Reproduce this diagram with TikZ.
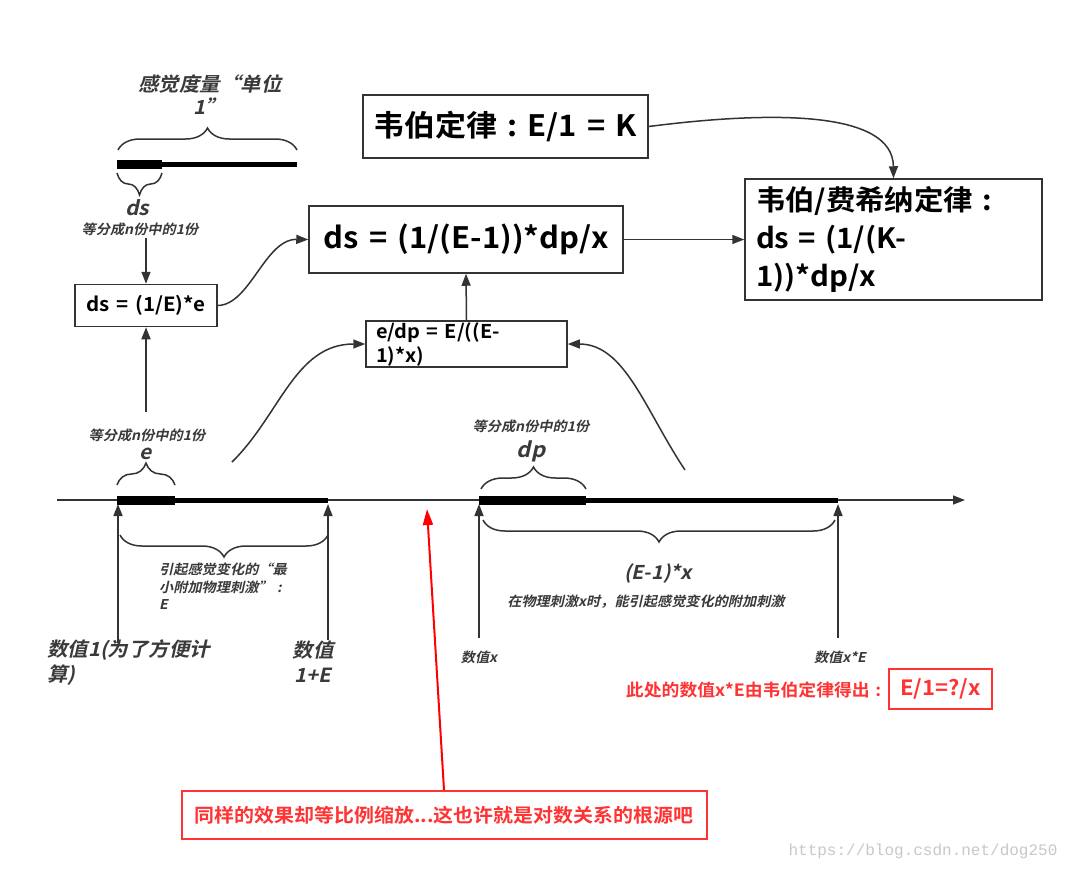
\documentclass[tikz,border=0pt]{standalone}
\usepackage{fontspec}
\setmainfont{Noto Sans CJK SC}[
  BoldFont=* Bold,
  ItalicFont=*, ItalicFeatures={FakeSlant=0.22},
  BoldItalicFont=* Bold, BoldItalicFeatures={FakeSlant=0.22},
  FakeStretch=1.05, WordSpace=1.5]
\newfontfamily\wmfont{Liberation Mono}
\usetikzlibrary{arrows.meta,decorations.pathreplacing}
\definecolor{ln}{HTML}{333333}
\definecolor{lbl}{HTML}{3A3A3A}
\definecolor{rd}{HTML}{FF3333}
\definecolor{rda}{HTML}{FF0000}
\definecolor{wm}{HTML}{C8C8C8}
\newcommand\fsz[2]{\fontsize{#1}{#2}\selectfont}
\newcommand\ccolon{\makebox[1em]{:}}
\begin{document}
\begin{tikzpicture}[x=1pt,y=-1pt,
  box/.style={draw=ln, line width=1.5pt, fill=white, inner sep=0pt, text=black},
  conn/.style={draw=ln, line width=1.5pt, -{Triangle[length=12pt,width=9pt]}},
  lab/.style={text=lbl, inner sep=0pt, align=center},
  labl/.style={text=lbl, inner sep=0pt, align=left},
  brc/.style={draw=ln, line width=1.5pt, decorate, decoration={brace, amplitude=22pt}},
  brcm/.style={draw=ln, line width=1.5pt, decorate, decoration={brace, amplitude=22pt, mirror}},
  thickbar/.style={line width=9pt, draw=black},
  thinbar/.style={line width=5pt, draw=black},
  redbox/.style={draw=rd, line width=2pt, fill=white, text=rd, inner sep=0pt},
]
\useasboundingbox (0,0) rectangle (1073,871);
\fill[white] (0,0) rectangle (1073,871);

% ---------- top-left unit bar ----------
\node[lab, font=\bfseries\itshape\fsz{19.5}{23}] (unitlab) at (210,95) {感觉度量“单位\\1”};
\draw[brc] (118,150) -- (297,150);
\draw[thickbar] (117,164) -- (162,164);
\draw[thinbar] (162,164) -- (297,164);
\draw[brcm] (117,173) -- (162,173);
\node[lab, font=\bfseries\itshape\fsz{20}{22}] (dslab) at (137,208) {ds};
\node[lab, font=\bfseries\itshape\fsz{13.5}{15}] (dsnote) at (140,229) {等分成n份中的1份};

% ---------- boxes ----------
\node[box, font=\bfseries\fsz{19.5}{22}, minimum width=142, minimum height=42] (b1) at (146,305.5) {ds = (1/E)*e};
\node[box, font=\bfseries\fsz{29.5}{34}, minimum width=314, minimum height=67] (b2) at (466,239.5) {ds = (1/(E-1))*dp/x};
\node[box, font=\bfseries\fsz{29.5}{34}, minimum width=285, minimum height=63] (b3) at (505.5,126.5) {韦伯定律\ccolon E/1 = K};
\node[box, font=\bfseries\fsz{28}{38}, minimum width=297, minimum height=121, inner xsep=11pt, text width=275, align=left] (b4) at (893.5,239.5) {韦伯/费希纳定律\ccolon\\ds = (1/(K-\\1))*dp/x};
\node[box, font=\bfseries\fsz{19}{24}, minimum width=201, minimum height=46, inner xsep=10pt, text width=181, align=left] (b5) at (466.5,344) {e/dp = E/((E-\\1)*x)};

% ---------- connectors between boxes ----------
\coordinate (a2) at (146,238);
\draw[conn] (a2) -- (b1.north);
\coordinate (a1) at (146,412);
\draw[conn] (a1) -- (b1.south);
\draw[conn] (b1.east) .. controls (250,305) and (265,239) .. (b2.west);
\draw[conn] (b2.east) -- (b4.west);
\draw[conn] (b5.north) -- (b2.south);
\draw[conn] (b3.east) .. controls (770,111) and (893,110) .. (b4.north);
\coordinate (c2s) at (232,462);
\draw[conn] (c2s) .. controls (280,415) and (295,344) .. (b5.west);
\coordinate (c3s) at (685,470);
\draw[conn] (c3s) .. controls (645,410) and (625,344) .. (b5.east);

% ---------- axis ----------
\coordinate (ax0) at (57,500);
\coordinate (ax1) at (965,500);
\draw[conn] (ax0) -- (ax1);

% left segment
\draw[thickbar] (117,500) -- (175,500);
\draw[thinbar] (175,500) -- (328,500);
\draw[brc] (117,485) -- (175,485);
\node[lab, font=\bfseries\itshape\fsz{20}{22}] (elab) at (146,454) {e};
\node[lab, font=\bfseries\itshape\fsz{13.5}{15}] (enote) at (147,435) {等分成n份中的1份};
\draw[brcm] (120,535) -- (328,535);
\node[labl, font=\bfseries\itshape\fsz{13.5}{17.5}, anchor=north west] (Elab) at (159,563) {引起感觉变化的“最\\小附加物理刺激”\ccolon\\E};
\coordinate (p1) at (118,504);
\coordinate (p1s) at (118,643);
\draw[conn] (p1s) -- (p1);
\coordinate (p2) at (328,504);
\coordinate (p2s) at (328,640);
\draw[conn] (p2s) -- (p2);
\node[labl, font=\bfseries\itshape\fsz{19.5}{25}, anchor=north west] (v1) at (47,639) {数值1(为了方便计\\算)};
\node[lab, font=\bfseries\itshape\fsz{19.5}{25}] (v2) at (313,662) {数值\\1+E};

% right segment
\draw[thickbar] (479,500) -- (586,500);
\draw[thinbar] (586,500) -- (838,500);
\draw[brc] (481,489) -- (586,489);
\node[lab, font=\bfseries\itshape\fsz{21}{23}] (dplab) at (531,451) {dp};
\node[lab, font=\bfseries\itshape\fsz{13.5}{15}] (dpnote) at (531,426) {等分成n份中的1份};
\draw[brcm] (483,520) -- (835,520);
\node[lab, font=\bfseries\itshape\fsz{19}{22}] (exlab) at (658,573) {(E-1)*x};
\node[lab, font=\bfseries\itshape\fsz{13.5}{15}] (exnote) at (646,602) {在物理刺激x时，能引起感觉变化的附加刺激};
\coordinate (p3) at (479,504);
\coordinate (p3s) at (479,638);
\draw[conn] (p3s) -- (p3);
\coordinate (p4) at (838,504);
\coordinate (p4s) at (838,638);
\draw[conn] (p4s) -- (p4);
\node[lab, font=\bfseries\itshape\fsz{13.5}{16}] (vx) at (479,657) {数值x};
\node[lab, font=\bfseries\itshape\fsz{13.5}{16}] (vxe) at (840,657) {数值x*E};

% red annotations
\node[text=rd, font=\bfseries\fsz{17}{20}, inner sep=0pt, anchor=east] (rnote) at (887,690) {此处的数值x*E由韦伯定律得出\ccolon};
\node[redbox, font=\bfseries\fsz{21}{24}, minimum width=103, minimum height=40] (rbox) at (940.5,689) {E/1=?/x};
\node[redbox, font=\bfseries\fsz{19}{24}, minimum width=525, minimum height=48] (rbig) at (444,815) {同样的效果却等比例缩放...这也许就是对数关系的根源吧};
\coordinate (rtip) at (427,509);
\draw[draw=rda, line width=2pt, -{Triangle[length=16pt,width=10pt]}] (rbig.north) -- (rtip);

% watermark
\node[text=wm, inner sep=0pt] (wmark) at (923,851) {\wmfont\fsz{16}{18}https://blog.csdn.net/dog250};
\end{tikzpicture}
\end{document}
